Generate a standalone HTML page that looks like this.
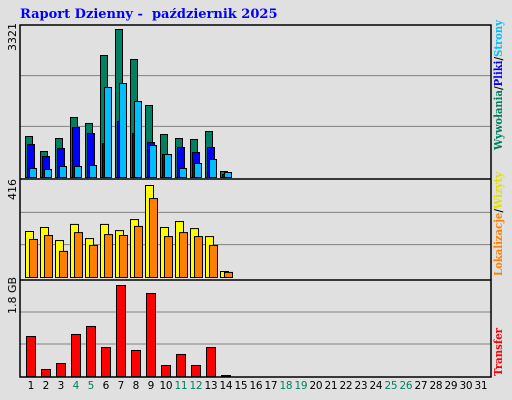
<!DOCTYPE html>
<html><head><meta charset="utf-8"><style>
body{margin:0;background:#e0e0e0;width:512px;height:400px;overflow:hidden}
svg{display:block}
</style></head><body>
<svg id="c" width="512" height="400" xmlns="http://www.w3.org/2000/svg">
<rect width="512" height="400" fill="#e0e0e0"/>
<text x="20" y="18" font-family="DejaVu Serif, serif" font-weight="bold" font-size="13" fill="#0000ff" xml:space="preserve">Raport Dzienny -  październik 2025</text>
<g id="frames"></g><g id="bars"></g><g id="labels"></g>
<text transform="translate(16,51) rotate(-90)" font-family="DejaVu Sans, sans-serif" font-size="11" fill="#000">3321</text>
<text transform="translate(16,200) rotate(-90)" font-family="DejaVu Sans, sans-serif" font-size="11" fill="#000">416</text>
<text transform="translate(16,314) rotate(-90)" font-family="DejaVu Sans, sans-serif" font-size="11" fill="#000">1.8 GB</text>
<text transform="translate(502,150) rotate(-90)" font-family="DejaVu Serif, serif" font-weight="bold" font-size="11" textLength="130" lengthAdjust="spacingAndGlyphs"><tspan fill="#008060">Wywołania</tspan><tspan fill="#000">/</tspan><tspan fill="#0000ff">Pliki</tspan><tspan fill="#000">/</tspan><tspan fill="#00bfff">Strony</tspan></text>
<text transform="translate(502,276) rotate(-90)" font-family="DejaVu Serif, serif" font-weight="bold" font-size="11" textLength="104" lengthAdjust="spacingAndGlyphs"><tspan fill="#ff8000">Lokalizacje</tspan><tspan fill="#000">/</tspan><tspan fill="#e0e000">Wizyty</tspan></text>
<text transform="translate(502,376) rotate(-90)" font-family="DejaVu Serif, serif" font-weight="bold" font-size="11" fill="#ff0000" textLength="48" lengthAdjust="spacingAndGlyphs">Transfer</text>
</svg>
<script>
const days=[1,2,3,4,5,6,7,8,9,10,11,12,13,14,15,16,17,18,19,20,21,22,23,24,25,26,27,28,29,30,31];
const weekend=[4,5,11,12,18,19,25,26];
const hits=[920,583,875,1346,1212,2738,3321,2648,1616,965,875,853,1032,135];
const files=[740,471,651,1122,987,763,1257,987,785,516,673,561,673,67];
const pages=[202,180,247,247,269,2020,2109,1706,718,516,202,314,404,112];
const visits=[208,226,167,240,176,240,212,262,416,226,253,221,185,27];
const sites=[172,190,118,203,145,194,190,231,357,185,203,185,145,23];
const transfer=[810,142,263,851,1013,587,1843,527,1681,223,446,223,587,20];
const maxHits=3321,maxVisits=416,maxTransfer=1843;
const NS="http://www.w3.org/2000/svg";
const gF=document.getElementById('frames'),gB=document.getElementById('bars'),gL=document.getElementById('labels');
function el(p,t,a){const e=document.createElementNS(NS,t);for(const k in a)e.setAttribute(k,a[k]);p.appendChild(e);return e;}
const X0=20,X1=491,slot=15;
function xs(d){return X0+4+(d-1)*slot;}
const panels=[{top:25,base:177,h:148},{top:180,base:277,h:92},{top:280,base:376,h:91}];
panels.forEach((p)=>{
  const H=p.base-p.top;
  for(let k=1;k<=2;k++){
    const l=el(gF,'line',{x1:X0,x2:X1,y1:p.base-H*k/3,y2:p.base-H*k/3,stroke:'#808080','stroke-width':1});
    
    
  }
});
const fr=el(gF,'path',{d:`M${X0},25H${X1}V377H${X0}ZM${X0},179H${X1}M${X0},280H${X1}`,fill:'none',stroke:'#000','stroke-width':1.5});


function ys(v,max,p){return v/max*p.h;}
function bar(d,off,w,v,max,p,color,name){
  const h=ys(v,max,p);
  const r=el(gB,'rect',{x:xs(d)+off+0.5,y:p.base-h+0.5,width:w,height:Math.max(h,1),fill:color,stroke:'#000','stroke-width':1});
  
  
}
hits.forEach((v,i)=>{
  bar(i+1,1,7,hits[i],maxHits,panels[0],'#008060','bar-hits');
  bar(i+1,3,7,files[i],maxHits,panels[0],'#0000ff','bar-files');
  bar(i+1,5,7,pages[i],maxHits,panels[0],'#00bfff','bar-pages');
  bar(i+1,1,8,visits[i],maxVisits,panels[1],'#ffff00','bar-visits');
  bar(i+1,5,8,sites[i],maxVisits,panels[1],'#ff8000','bar-sites');
  bar(i+1,2,9,transfer[i],maxTransfer,panels[2],'#ff0000','bar-transfer');
});
days.forEach(d=>{
  const t=el(gL,'text',{x:X0+11+(d-1)*slot,y:389,'text-anchor':'middle','font-family':'DejaVu Sans, sans-serif','font-size':10.5,fill:weekend.includes(d)?'#008060':'#000'});
  if(d>=10) t.setAttribute('textLength','13');
  t.textContent=d;
  
  
});
</script>
</body></html>
